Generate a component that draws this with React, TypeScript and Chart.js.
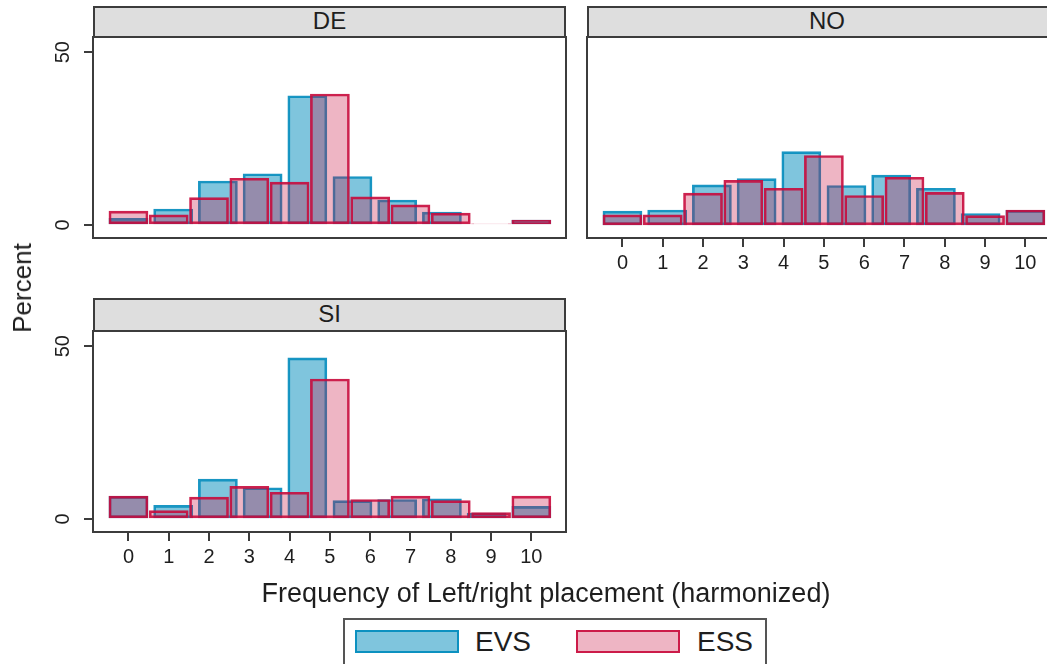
import React, { useEffect, useRef } from 'react';
import { Chart, registerables } from 'chart.js';

Chart.register(...registerables);

const FONT = '"Liberation Sans", Arial, Helvetica, sans-serif';

// ESS uses the 0-10 scale, EVS bins come from the harmonized 1-10 scale
const essCategories = [0, 1, 2, 3, 4, 5, 6, 7, 8, 9, 10];
const evsCategories = [0, 1.11, 2.22, 3.33, 4.44, 5.56, 6.67, 7.78, 8.89, 10];
const xTickLabels = [0, 1, 2, 3, 4, 5, 6, 7, 8, 9, 10];
const yTickLabels = [0, 50];

const deEVS = [1.9, 4.6, 12.7, 14.8, 37.4, 14.0, 7.2, 3.7, 0, 1.4];
const deESS = [4.0, 2.9, 7.9, 13.5, 12.4, 37.9, 8.1, 5.8, 3.4, 0.3, 1.4];
const noEVS = [4.0, 4.3, 11.6, 13.4, 21.2, 11.4, 14.4, 10.6, 3.3, 4.2];
const noESS = [2.9, 2.9, 9.2, 12.9, 10.6, 20.1, 8.5, 13.8, 9.4, 2.7, 4.3];
const siEVS = [6.5, 3.9, 11.5, 9.0, 46.6, 5.3, 5.6, 5.8, 1.7, 3.6];
const siESS = [6.6, 2.4, 6.3, 9.4, 7.7, 40.5, 5.6, 6.6, 5.3, 1.8, 6.6];

const seriesLabels = ['EVS', 'ESS'];
const panelLabels = ['DE', 'NO', 'SI'];

const X_MIN = -0.88;
const X_MAX = 10.86;
const Y_MIN = -3.8;
const Y_MAX = 54.4;
const BAR_WIDTH = 0.97;

const EVS_FILL = 'rgba(0,139,188,0.5)';
const EVS_LINE = 'rgba(0,139,188,0.9)';
const ESS_FILL = 'rgba(200,10,60,0.3)';
const ESS_LINE = 'rgba(200,10,60,0.9)';
const AXIS = '#3c3c3c';
const TEXT = '#1e1e1e';

const framePlugin = {
  id: 'frame',
  afterDatasetsDraw(chart: any) {
    const { ctx, chartArea: a } = chart;
    ctx.save();
    ctx.strokeStyle = AXIS;
    ctx.lineWidth = 2;
    ctx.strokeRect(a.left, a.top, a.right - a.left, a.bottom - a.top);
    ctx.restore();
  },
};

type PanelSpec = {
  evs: number[];
  ess: number[];
  showX: boolean;
  showY: boolean;
  padding: { left: number; top: number; right: number; bottom: number };
};

function zeroPad(s: any) {
  s.paddingLeft = 0;
  s.paddingRight = 0;
  s.paddingTop = 0;
  s.paddingBottom = 0;
}

function buildPanel(canvas: HTMLCanvasElement, spec: PanelSpec) {
  const chart = new Chart(canvas, {
    type: 'bar',
    data: {
      datasets: [
        {
          label: seriesLabels[1],
          data: essCategories.map((x, i) => ({ x, y: spec.ess[i] })),
          backgroundColor: ESS_FILL,
          borderColor: ESS_LINE,
          borderWidth: 2,
          borderSkipped: false,
          grouped: false,
          barThickness: 39,
          order: 0,
        } as any,
        {
          label: seriesLabels[0],
          data: evsCategories.map((x, i) => ({ x, y: spec.evs[i] })),
          backgroundColor: EVS_FILL,
          borderColor: EVS_LINE,
          borderWidth: 2,
          borderSkipped: false,
          grouped: false,
          barThickness: 39,
          order: 1,
        } as any,
      ],
    },
    options: {
      responsive: false,
      animation: false,
      layout: { padding: spec.padding },
      plugins: {
        legend: { display: false },
        tooltip: { enabled: false },
        title: { display: false },
      },
      scales: {
        x: {
          type: 'linear',
          min: X_MIN,
          max: X_MAX,
          offset: false,
          display: spec.showX,
          grid: {
            display: true,
            offset: false,
            drawOnChartArea: false,
            drawTicks: true,
            tickLength: 9,
            color: AXIS,
            lineWidth: 2,
          },
          border: { display: false },
          afterBuildTicks: (s: any) => {
            s.ticks = xTickLabels.map((v) => ({ value: v }));
          },
          afterFit: (s: any) => {
            s.height = spec.showX ? 45 : 0;
            zeroPad(s);
          },
          ticks: {
            font: { family: FONT, size: 20 },
            color: TEXT,
            padding: 4,
            minRotation: 0,
            maxRotation: 0,
            autoSkip: false,
            callback: (v: any) => String(v),
          },
        },
        y: {
          type: 'linear',
          min: Y_MIN,
          max: Y_MAX,
          display: spec.showY,
          grid: {
            display: true,
            drawOnChartArea: false,
            drawTicks: true,
            tickLength: 9,
            color: AXIS,
            lineWidth: 2,
          },
          border: { display: false },
          afterBuildTicks: (s: any) => {
            s.ticks = yTickLabels.map((v) => ({ value: v }));
          },
          afterFit: (s: any) => {
            s.width = spec.showY ? 93 : 0;
            zeroPad(s);
          },
          ticks: {
            font: { family: FONT, size: 20 },
            color: TEXT,
            padding: 9,
            minRotation: 90,
            maxRotation: 90,
            crossAlign: 'center',
            autoSkip: false,
            callback: (v: any) => String(v),
          },
        },
      },
    } as any,
    plugins: [framePlugin],
  });
  const xs: any = chart.scales.x;
  const px = xs.getPixelForValue(BAR_WIDTH) - xs.getPixelForValue(0);
  chart.data.datasets.forEach((d: any) => {
    d.barThickness = px;
  });
  chart.update();
  return chart;
}

const stripStyle = (left: number, top: number, width: number, height: number): React.CSSProperties => ({
  position: 'absolute',
  left,
  top,
  width,
  height,
  boxSizing: 'border-box',
  border: `2px solid ${AXIS}`,
  background: '#dedede',
  color: TEXT,
  fontSize: 24,
  lineHeight: `${height - 6}px`,
  textAlign: 'center',
  fontFamily: FONT,
});

export default function App() {
  const deRef = useRef<HTMLCanvasElement>(null);
  const noRef = useRef<HTMLCanvasElement>(null);
  const siRef = useRef<HTMLCanvasElement>(null);

  useEffect(() => {
    const charts: Chart[] = [];
    if (deRef.current)
      charts.push(
        buildPanel(deRef.current, {
          evs: deEVS,
          ess: deESS,
          showX: false,
          showY: true,
          padding: { left: 0, top: 7, right: 14, bottom: 12 },
        })
      );
    if (noRef.current)
      charts.push(
        buildPanel(noRef.current, {
          evs: noEVS,
          ess: noESS,
          showX: true,
          showY: false,
          padding: { left: 10, top: 7, right: 17, bottom: 7 },
        })
      );
    if (siRef.current)
      charts.push(
        buildPanel(siRef.current, {
          evs: siEVS,
          ess: siESS,
          showX: true,
          showY: true,
          padding: { left: 0, top: 7, right: 14, bottom: 7 },
        })
      );
    return () => charts.forEach((c) => c.destroy());
  }, []);

  return (
    <div
      style={{
        position: 'fixed',
        left: 0,
        top: 0,
        width: 1047,
        height: 664,
        overflow: 'hidden',
        background: '#ffffff',
        fontFamily: FONT,
        color: TEXT,
      }}
    >
      <canvas ref={deRef} width={580} height={220} style={{ position: 'absolute', left: 0, top: 30, display: 'block' }} />
      <canvas ref={noRef} width={500} height={260} style={{ position: 'absolute', left: 577, top: 30, display: 'block' }} />
      <canvas ref={siRef} width={580} height={260} style={{ position: 'absolute', left: 0, top: 324, display: 'block' }} />

      <div style={stripStyle(93, 6, 473, 32)}>{panelLabels[0]}</div>
      <div style={stripStyle(587, 6, 480, 32)}>{panelLabels[1]}</div>
      <div style={stripStyle(93, 298, 473, 34)}>{panelLabels[2]}</div>

      <div
        style={{
          position: 'absolute',
          left: 22,
          top: 288,
          transform: 'translate(-50%, -50%) rotate(-90deg)',
          whiteSpace: 'nowrap',
          fontSize: 26,
          lineHeight: '30px',
        }}
      >
        Percent
      </div>

      <div
        style={{
          position: 'absolute',
          left: 0,
          top: 578,
          width: 1092,
          textAlign: 'center',
          whiteSpace: 'nowrap',
          fontSize: 27,
          lineHeight: '30px',
        }}
      >
        Frequency of Left/right placement (harmonized)
      </div>

      <div
        style={{
          position: 'absolute',
          left: 343,
          top: 618,
          width: 424,
          height: 70,
          boxSizing: 'border-box',
          border: '2px solid #555555',
        }}
      >
        <div
          style={{
            position: 'absolute',
            left: 10,
            top: 10,
            width: 104,
            height: 23,
            boxSizing: 'border-box',
            background: EVS_FILL,
            border: `2px solid ${EVS_LINE}`,
          }}
        />
        <div style={{ position: 'absolute', left: 130, top: 5, fontSize: 28, lineHeight: '34px' }}>{seriesLabels[0]}</div>
        <div
          style={{
            position: 'absolute',
            left: 231,
            top: 10,
            width: 104,
            height: 23,
            boxSizing: 'border-box',
            background: ESS_FILL,
            border: `2px solid ${ESS_LINE}`,
          }}
        />
        <div style={{ position: 'absolute', left: 352, top: 5, fontSize: 28, lineHeight: '34px' }}>{seriesLabels[1]}</div>
      </div>
    </div>
  );
}
